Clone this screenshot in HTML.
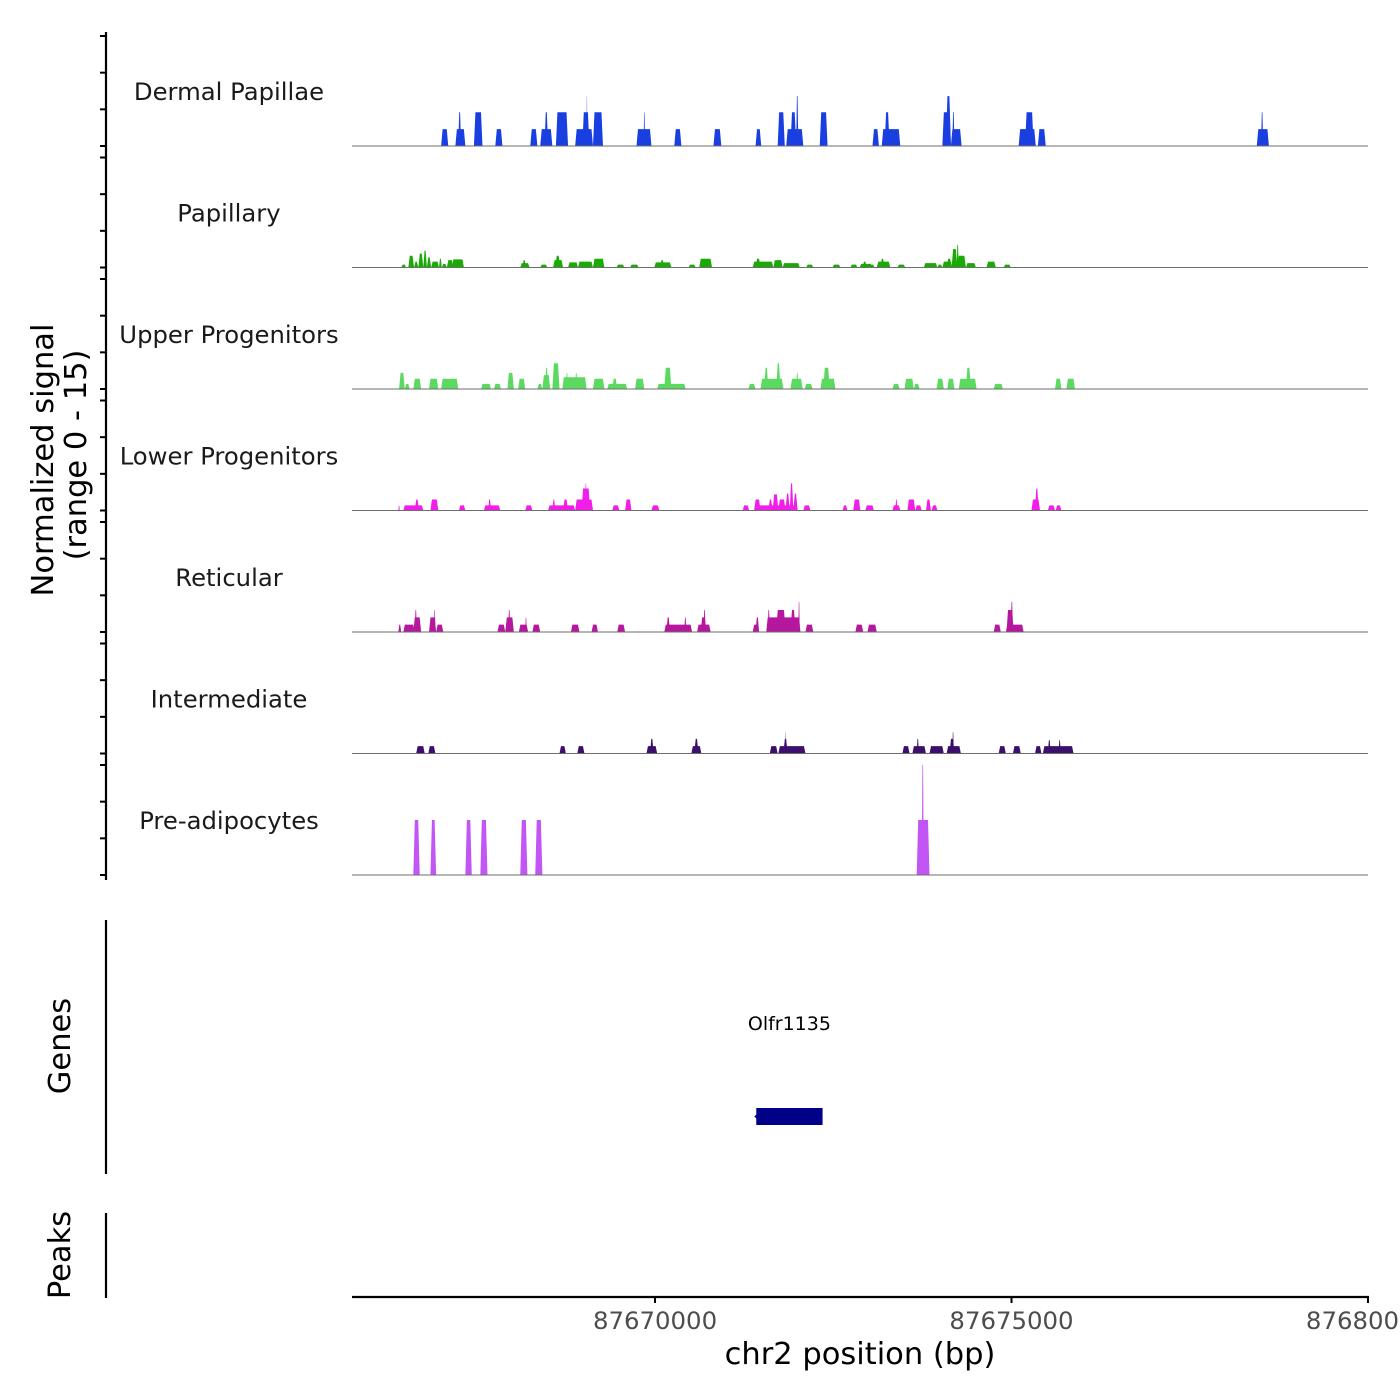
<!DOCTYPE html>
<html><head><meta charset="utf-8"><style>
html,body{margin:0;padding:0;background:#fff;}
svg{display:block;font-family:"DejaVu Sans","Liberation Sans",sans-serif;}
</style></head>
<body>
<svg id="chart" width="1400" height="1400" viewBox="0 0 1400 1400" xmlns="http://www.w3.org/2000/svg">
<rect x="0" y="0" width="1400" height="1400" fill="#fff"/>
<g id="tracks"></g>
<g id="axes"></g>
</svg>
<script>
// ---- data (genomic offsets in bp from regionStart, values = normalized signal) ----
const regionStart = 87665750;
const regionEnd = 87680000;
const trackNames = ["Dermal Papillae","Papillary","Upper Progenitors","Lower Progenitors","Reticular","Intermediate","Pre-adipocytes"];
const trackColors = ["#1a3fe0","#1aaa05","#5cd960","#f01ee6","#b5179e","#3b0f6b","#c256f5"];
const xTicks = [87670000, 87675000, 87680000];
const yTickValues = [0, 5, 10, 15];

const dpStart = [1250,1450,1490,1710,2010,2500,2640,2700,2860,3130,3230,3290,3380,3990,4090,4520,5070,5660,5970,6090,6150,6230,6560,7300,7430,7470,8280,8330,8400,8420,9350,9440,9620,12690,12750];
const dpEnd   = [1350,1590,1530,1830,2110,2600,2810,2750,3030,3380,3330,3300,3520,4200,4110,4620,5180,5740,6070,6330,6230,6260,6670,7390,7690,7540,8400,8400,8550,8450,9590,9560,9730,12860,12780];
const dpVal   = [2.3,2.3,4.6,4.6,2.3,2.3,2.3,4.6,4.6,2.3,4.6,6.8,4.6,2.3,4.6,2.3,2.3,2.3,4.6,2.3,4.6,6.8,4.6,2.3,2.3,4.6,4.6,6.8,2.3,4.6,2.3,4.6,2.3,2.3,4.6];

const paStart = [690,790,870,930,1000,1050,1110,1220,1260,1330,1400,2360,2390,2640,2820,2850,3030,3170,3380,3710,3900,4240,4320,4720,4870,5620,5660,5910,6040,6370,6740,6990,7120,7160,7270,7360,7410,7650,8020,8210,8280,8340,8410,8480,8490,8610,8900,9140];
const paEnd   = [760,870,930,1000,1050,1110,1220,1260,1330,1420,1570,2490,2440,2740,2960,2920,3170,3380,3540,3820,4020,4480,4380,4820,5050,5910,5730,6040,6280,6470,6850,7090,7300,7220,7330,7550,7470,7760,8210,8280,8420,8410,8490,8510,8610,8750,9030,9240];
const paVal   = [0.4,1.6,0.8,1.9,2.3,1.4,0.8,1.2,0.5,1.0,1.1,0.6,1.0,0.4,1.0,1.6,0.7,0.8,1.2,0.4,0.4,0.7,1.0,0.4,1.2,0.8,1.2,1.0,0.6,0.4,0.4,0.4,0.5,0.8,0.4,0.8,1.2,0.4,0.6,0.4,0.8,1.2,2.5,3.1,1.6,0.6,0.8,0.4];

const upStart = [660,740,860,1080,1250,1810,1990,2180,2330,2600,2670,2710,2810,2850,2950,3000,3130,3380,3580,3650,3970,4280,4380,5560,5730,5780,5950,6150,6230,6350,6570,6610,7580,7750,7880,8200,8350,8510,8610,9000,9860,10020];
const upEnd   = [740,810,970,1210,1490,1950,2090,2270,2430,2670,2780,2750,2910,2860,3290,3030,3160,3540,3860,3720,4100,4680,4480,5660,6050,5840,6010,6320,6260,6460,6780,6700,7680,7880,7960,8300,8450,8760,8680,9130,9950,10140];
const upVal   = [2.2,0.7,1.4,1.4,1.4,0.7,0.7,2.2,1.4,0.7,1.9,2.9,3.5,3.7,1.6,2.2,2.2,1.4,0.7,1.4,1.4,0.7,2.9,0.7,1.4,2.9,3.5,1.4,2.2,0.7,1.4,2.9,0.7,1.4,0.7,1.4,1.4,1.4,2.9,0.7,1.4,1.4];

const lpStart = [650,720,880,1100,1500,1850,1910,2430,2750,2810,2960,3130,3220,3270,3650,3830,4200,5480,5640,5640,5840,5900,5980,6080,6140,6190,6330,6880,7030,7200,7580,7620,7790,7900,8050,8130,9530,9580,9760,9870];
const lpEnd   = [670,1000,940,1210,1590,2080,1950,2530,3130,2850,3030,3380,3340,3290,3750,3920,4310,5570,6250,5730,5900,5980,6080,6140,6190,6250,6430,6950,7130,7320,7690,7650,7900,7990,8120,8210,9650,9630,9860,9950];
const lpVal   = [0.7,0.7,1.5,1.5,0.7,0.7,1.5,0.7,0.7,1.5,1.5,1.5,3.0,3.7,0.7,1.5,0.7,0.7,0.7,1.5,1.5,2.2,1.5,2.3,3.7,2.3,0.7,0.7,1.5,0.7,0.7,1.5,1.5,0.7,1.5,0.7,1.5,3.0,0.7,0.7];

const reStart = [650,720,860,880,1080,1150,1180,2040,2150,2190,2340,2430,2530,3070,3360,3720,4380,4410,4660,4840,4890,4930,5620,5660,5810,5830,5950,6150,6260,6360,7060,7230,9000,9170,9180,9240];
const reEnd   = [690,880,970,910,1180,1170,1280,2150,2270,2220,2470,2450,2640,3190,3450,3830,4770,4460,4690,5030,4970,4960,5710,5710,6290,5860,6080,6220,6280,6470,7170,7360,9100,9420,9280,9270];
const reVal   = [1.0,1.0,2.0,3.0,2.0,3.0,1.0,1.0,2.0,3.0,1.0,2.0,1.0,1.0,1.0,1.0,1.0,2.0,2.0,1.0,2.0,3.0,1.0,2.0,2.0,3.0,3.0,3.0,4.1,1.0,1.0,1.0,1.0,1.0,3.0,4.1];

const inStart = [900,1070,2910,3160,4130,4180,4760,4800,5860,5980,6050,6080,7720,7860,7920,8100,8340,8380,8420,9070,9270,9580,9690,9760,9910];
const inEnd   = [1020,1170,3000,3260,4280,4230,4900,4860,5970,6360,6110,6090,7820,8050,7950,8300,8540,8450,8440,9170,9380,9670,10120,9800,9940];
const inVal   = [1.0,1.0,1.0,1.0,1.0,2.0,1.0,2.0,1.0,1.0,2.0,2.9,1.0,1.0,2.0,1.0,1.0,2.0,2.9,1.0,1.0,1.0,1.0,1.8,1.8];

const adStart = [860,1100,1590,1800,2360,2570,7920,7990];
const adEnd   = [950,1180,1680,1900,2460,2670,8100,8020];
const adVal   = [7.5,7.5,7.5,7.5,7.5,7.5,7.5,15];

const geneName = "Olfr1135";
const geneStart = 87671420;
const geneEnd = 87672350;

const trackStarts = [dpStart,paStart,upStart,lpStart,reStart,inStart,adStart];
const trackEnds = [dpEnd,paEnd,upEnd,lpEnd,reEnd,inEnd,adEnd];
const trackVals = [dpVal,paVal,upVal,lpVal,reVal,inVal,adVal];

// ---- layout ----
const NS = "http://www.w3.org/2000/svg";
const plotL = 352, plotR = 1368;
const firstBase = 146, trackStep = 121.5, yMax = 15, trackH = 110;
function xScale(bp){ return plotL + (bp - regionStart) / (regionEnd - regionStart) * (plotR - plotL); }
function yScale(track, v){ return firstBase + track * trackStep - v / yMax * trackH; }
function mk(tag, attrs, parent){
  const e = document.createElementNS(NS, tag);
  for (const k in attrs) e.setAttribute(k, attrs[k]);
  parent.appendChild(e);
  return e;
}
const gT = document.getElementById("tracks");
const gA = document.getElementById("axes");

trackNames.forEach((name, t) => {
  const base = yScale(t, 0);
  const g = mk("g", {}, gT);
  
  
  const lbl = mk("text", {x:229, y: base - 46, "text-anchor":"middle", "font-size":24.3, fill:"#1a1a1a"}, g);
  lbl.textContent = name;
  
  
  const st = trackStarts[t], en = trackEnds[t], va = trackVals[t];
  for (let i = 0; i < st.length; i++) {
    const x0 = xScale(regionStart + st[i]), x1 = xScale(regionStart + en[i]);
    const y = yScale(t, va[i]);
    const w = x1 - x0;
    const s = Math.min(1.5, w * 0.35);
    const p = mk("polygon", {points: `${x0},${base} ${x0+s},${y} ${x1-s},${y} ${x1},${base}`, fill: trackColors[t]}, g);
    
    
  }
  const bl = mk("line", {x1:plotL, x2:plotR, y1:base, y2:base, stroke:"#6e6e6e", "stroke-width":1}, g);
  
  
  yTickValues.forEach(v => {
    const ty = yScale(t, v);
    const tk = mk("line", {x1:100, x2:106, y1:ty, y2:ty, stroke:"#000", "stroke-width":2}, gA);
    
    
  });
});

// left axes
const ya = mk("line", {x1:106, x2:106, y1:32, y2:880, stroke:"#000", "stroke-width":2.2}, gA);


const ga = mk("line", {x1:106, x2:106, y1:920, y2:1174, stroke:"#000", "stroke-width":2.2}, gA);


const pa = mk("line", {x1:106, x2:106, y1:1213, y2:1298, stroke:"#000", "stroke-width":2.2}, gA);



function rotText(txt, x, y, name){
  const e = mk("text", {x:x, y:y, "text-anchor":"middle", "font-size":30.5, fill:"#000", transform:`rotate(-90 ${x} ${y})`}, gA);
  e.textContent = txt;
  
  
}
rotText("Normalized signal", 53, 460, "y-axis-title");
rotText("(range 0 - 15)", 86, 455, "y-axis-range");
rotText("Genes", 70, 1046, "genes-track-title");
rotText("Peaks", 70, 1255, "peaks-track-title");

// gene
const gg = mk("g", {}, gT);


const gr = mk("rect", {x: xScale(geneStart), y:1108, width: xScale(geneEnd) - xScale(geneStart), height:17, fill:"#000088"}, gg);


const gar = mk("polygon", {points:`${xScale(geneStart)-2},1116.5 ${xScale(geneStart)+3},1112 ${xScale(geneStart)+3},1121`, fill:"#000088"}, gg);


const gl = mk("text", {x:(xScale(geneStart)+xScale(geneEnd))/2, y:1030, "text-anchor":"middle", "font-size":19, fill:"#000"}, gg);
gl.textContent = geneName;



// x axis
const xa = mk("line", {x1:plotL, x2:plotR+1, y1:1297, y2:1297, stroke:"#000", "stroke-width":2.2}, gA);


xTicks.forEach(v => {
  const x = xScale(v);
  const tk = mk("line", {x1:x, x2:x, y1:1297, y2:1303, stroke:"#000", "stroke-width":2}, gA);
  
  
  const tl = mk("text", {x:x, y:1329, "text-anchor":"middle", "font-size":24.4, fill:"#4d4d4d"}, gA);
  tl.textContent = String(v);
  
  
});
const xt = mk("text", {x:860, y:1364, "text-anchor":"middle", "font-size":30.5, fill:"#000"}, gA);
xt.textContent = "chr2 position (bp)";


</script>
</body></html>
